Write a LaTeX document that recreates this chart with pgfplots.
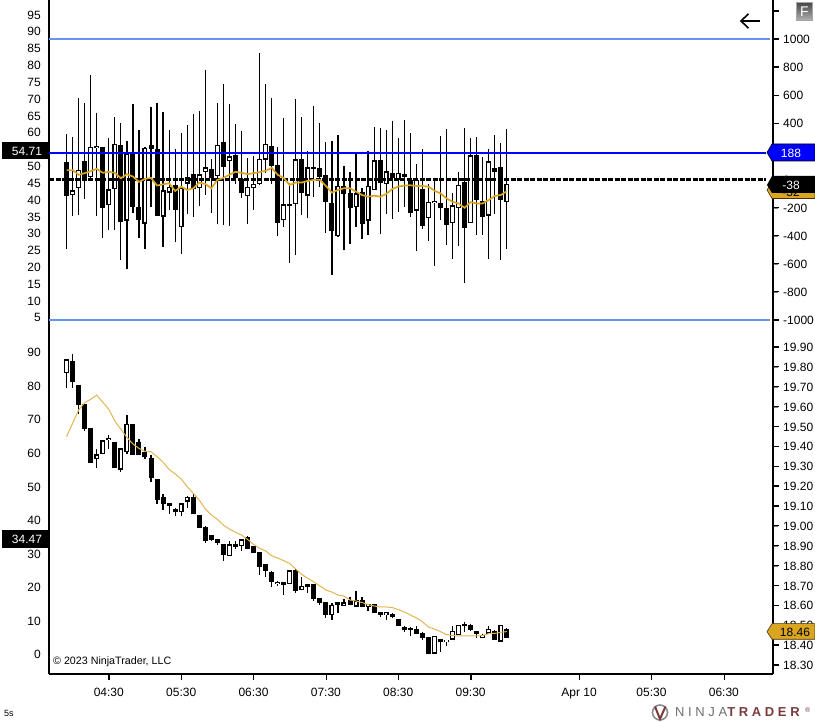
\documentclass[border=0pt]{standalone}
\usepackage{pgfplots}
\usepackage{pgfplotstable}
\usepackage{fontspec}
\setmainfont{Liberation Sans}
\newfontfamily\logofont[LetterSpace=28]{Liberation Sans}
\pgfplotsset{compat=1.18}
\definecolor{gold}{HTML}{DAA520}
\definecolor{softgold}{HTML}{E3B552}
\definecolor{cornf}{HTML}{6495ED}
\definecolor{pureblue}{HTML}{0000FF}
\definecolor{logored}{HTML}{7A3B3B}
\definecolor{loggray}{HTML}{6E6E6E}

\pgfplotstableread{
i t b h l w g
0 51.0 41.1 59.3 25.3 0 48.7
1 42.7 41.4 58.4 35.0 1 48.7
2 48.8 43.4 70.0 35.4 1 47.3
3 51.3 46.0 68.6 40.2 0 47.8
4 55.5 46.6 77.0 46.0 1 48.4
5 55.8 55.2 65.7 35.0 1 49.1
6 55.5 37.3 55.5 28.5 0 47.9
7 43.0 38.4 58.2 31.0 1 48.2
8 56.6 43.0 64.4 31.0 1 47.9
9 56.3 33.4 62.6 22.0 0 46.3
10 53.7 33.7 57.4 19.3 1 47.5
11 53.9 37.8 68.3 36.0 0 46.8
12 37.6 33.9 60.6 28.5 0 45.2
13 55.2 32.8 55.5 25.3 1 46.1
14 56.2 55.0 67.4 37.8 0 46.4
15 55.0 35.1 68.6 35.0 0 44.1
16 42.7 34.9 66.0 26.0 1 44.5
17 43.6 42.0 60.6 36.8 1 44.8
18 44.2 36.8 55.0 27.4 0 42.5
19 43.4 31.7 59.8 23.7 1 43.8
20 46.8 44.7 62.0 35.7 1 42.8
21 47.4 43.0 65.4 34.9 0 43.3
22 47.4 43.4 66.3 38.0 1 45.0
23 49.5 48.0 78.6 41.4 1 44.6
24 49.0 46.4 52.0 36.0 0 43.3
25 56.3 47.0 68.5 32.6 1 45.8
26 57.0 49.6 74.2 32.4 0 46.4
27 52.8 51.5 68.3 32.0 1 47.3
28 53.2 46.4 62.3 44.7 0 48.2
29 46.2 42.0 60.4 40.5 0 47.9
30 43.7 41.0 52.2 32.7 1 47.5
31 44.7 43.5 53.0 36.8 1 47.8
32 52.0 44.5 83.4 44.4 1 48.1
33 56.5 51.8 74.2 47.8 1 48.5
34 55.8 50.0 70.0 44.6 0 49.4
35 50.2 33.0 55.5 29.2 0 47.3
36 38.5 33.8 64.1 31.9 1 46.4
37 38.6 38.1 44.8 21.2 0 44.3
38 51.9 38.5 69.8 23.5 1 45.0
39 52.0 41.9 64.4 35.5 0 45.0
40 49.5 41.1 54.3 34.6 1 45.5
41 49.3 49.1 67.8 40.8 0 45.8
42 49.3 46.8 62.6 43.8 0 45.8
43 47.3 39.2 57.0 30.1 0 44.0
44 38.9 30.7 57.4 17.5 0 42.0
45 43.9 29.2 59.1 28.9 1 42.8
46 44.0 41.7 49.9 25.0 0 43.3
47 41.9 37.5 48.0 26.7 0 43.3
48 41.8 37.8 53.5 31.9 1 42.3
49 42.1 32.8 43.3 28.2 0 41.3
50 43.9 33.7 54.4 29.4 1 40.8
51 51.6 42.7 61.5 42.7 1 41.1
52 51.6 45.0 61.2 29.7 0 40.8
53 48.3 44.5 60.6 35.7 1 41.6
54 47.8 46.4 63.3 34.2 0 43.1
55 47.8 45.8 58.3 36.3 1 43.8
56 47.5 46.8 63.6 37.6 0 44.1
57 45.9 36.0 59.7 34.9 0 44.2
58 45.8 36.7 50.5 24.8 1 44.0
59 43.0 32.2 55.0 31.3 0 44.0
60 39.3 34.4 44.5 27.7 1 43.8
61 39.6 38.8 45.8 20.3 1 42.6
62 39.0 37.3 58.9 33.9 0 41.8
63 37.3 32.5 60.9 26.5 0 40.3
64 38.2 32.9 41.8 22.4 1 39.3
65 44.2 37.3 48.1 26.2 1 38.8
66 45.1 31.6 61.1 15.2 0 37.5
67 53.1 32.9 58.3 32.9 1 39.2
68 53.1 39.9 58.5 29.5 0 38.8
69 39.4 34.9 52.6 29.5 0 38.8
70 51.3 35.2 55.0 22.3 1 39.8
71 49.2 48.2 59.1 35.7 0 41.0
72 49.5 39.9 56.8 22.0 0 41.3
73 44.5 39.1 60.9 25.3 1 42.4
}\toptable

\pgfplotstableread{
i t b h l w g
0 19.838 19.767 19.838 19.695 1 19.449
1 19.829 19.726 19.865 19.695 0 19.516
2 19.707 19.610 19.707 19.563 0 19.583
3 19.611 19.489 19.611 19.479 0 19.620
4 19.491 19.318 19.491 19.318 0 19.637
5 19.360 19.338 19.387 19.293 1 19.658
6 19.430 19.360 19.430 19.360 1 19.622
7 19.440 19.430 19.457 19.387 1 19.586
8 19.420 19.293 19.420 19.293 0 19.528
9 19.390 19.283 19.390 19.273 1 19.486
10 19.511 19.370 19.558 19.360 1 19.445
11 19.511 19.358 19.511 19.358 0 19.412
12 19.420 19.358 19.437 19.358 0 19.390
13 19.372 19.348 19.395 19.338 0 19.375
14 19.340 19.243 19.357 19.222 0 19.373
15 19.234 19.132 19.234 19.112 0 19.348
16 19.145 19.112 19.160 19.082 0 19.320
17 19.113 19.100 19.113 19.060 0 19.284
18 19.085 19.071 19.092 19.051 0 19.261
19 19.113 19.071 19.113 19.051 1 19.236
20 19.144 19.122 19.152 19.092 1 19.197
21 19.145 19.061 19.160 19.061 0 19.164
22 19.053 18.991 19.053 18.991 0 19.130
23 18.994 18.926 18.998 18.916 0 19.085
24 18.954 18.931 18.954 18.926 0 19.055
25 18.934 18.914 18.934 18.905 0 19.033
26 18.907 18.855 18.907 18.825 0 19.004
27 18.907 18.847 18.922 18.847 1 18.984
28 18.907 18.894 18.922 18.885 0 18.968
29 18.932 18.897 18.932 18.875 1 18.954
30 18.942 18.885 18.947 18.885 0 18.932
31 18.897 18.865 18.897 18.865 0 18.907
32 18.867 18.795 18.867 18.755 0 18.887
33 18.808 18.775 18.808 18.744 0 18.874
34 18.768 18.716 18.773 18.694 0 18.850
35 18.716 18.706 18.723 18.696 1 18.838
36 18.718 18.704 18.718 18.654 0 18.825
37 18.776 18.706 18.776 18.706 1 18.810
38 18.778 18.674 18.783 18.664 0 18.783
39 18.696 18.676 18.743 18.676 1 18.756
40 18.706 18.694 18.706 18.664 0 18.736
41 18.706 18.634 18.706 18.624 0 18.718
42 18.635 18.614 18.635 18.604 0 18.698
43 18.615 18.553 18.615 18.538 0 18.677
44 18.604 18.553 18.610 18.528 1 18.667
45 18.615 18.604 18.615 18.563 0 18.652
46 18.615 18.595 18.630 18.595 1 18.647
47 18.625 18.604 18.640 18.604 0 18.627
48 18.625 18.594 18.672 18.594 1 18.622
49 18.625 18.594 18.640 18.594 0 18.614
50 18.605 18.594 18.605 18.573 1 18.604
51 18.605 18.563 18.605 18.563 0 18.597
52 18.565 18.552 18.565 18.542 0 18.592
53 18.565 18.552 18.565 18.527 1 18.592
54 18.555 18.543 18.562 18.537 0 18.589
55 18.530 18.498 18.530 18.498 0 18.579
56 18.491 18.478 18.498 18.468 0 18.567
57 18.483 18.480 18.490 18.448 0 18.552
58 18.480 18.458 18.496 18.458 0 18.537
59 18.459 18.438 18.466 18.428 0 18.518
60 18.439 18.357 18.439 18.357 0 18.491
61 18.448 18.357 18.448 18.357 1 18.481
62 18.429 18.418 18.429 18.367 0 18.468
63 18.428 18.418 18.428 18.397 1 18.453
64 18.470 18.428 18.495 18.428 1 18.448
65 18.500 18.449 18.500 18.449 1 18.446
66 18.500 18.498 18.515 18.468 0 18.446
67 18.500 18.478 18.506 18.470 0 18.446
68 18.470 18.458 18.470 18.438 0 18.446
69 18.449 18.438 18.458 18.438 1 18.448
70 18.480 18.458 18.495 18.458 1 18.458
71 18.470 18.428 18.476 18.428 0 18.459
72 18.500 18.418 18.500 18.418 1 18.464
73 18.480 18.438 18.486 18.438 0 18.468
}\bottable

\newcommand{\candles}[4]{% table, min half body, inset, min inner
  \addplot[draw=none,mark=none,forget plot,error bars/.cd,y dir=both,y explicit,error mark=none,
    error bar style={draw=black,line width=1.2pt}]
    table[x=i,y=h,y error plus expr=0,y error minus expr=\thisrow{h}-\thisrow{l}] {#1};
  \addplot[draw=none,mark=none,forget plot,error bars/.cd,y dir=both,y explicit,error mark=none,
    error bar style={draw=black,line width=5pt}]
    table[x=i,y expr=(\thisrow{t}+\thisrow{b})/2,
      y error plus expr={max((\thisrow{t}-\thisrow{b})/2,#2)},
      y error minus expr={max((\thisrow{t}-\thisrow{b})/2,#2)}] {#1};
  \addplot[draw=none,mark=none,forget plot,error bars/.cd,y dir=both,y explicit,error mark=none,
    error bar style={draw=white,line width=2.5pt}]
    table[x=i,y expr={\thisrow{w}>0.5 ? (\thisrow{t}+\thisrow{b})/2 : nan},
      y error plus expr={max((\thisrow{t}-\thisrow{b})/2-#3,#4)},
      y error minus expr={max((\thisrow{t}-\thisrow{b})/2-#3,#4)}] {#1};
}

\pgfplotsset{
  base/.style={
    scale only axis, width=724pt, xmin=-2.92, xmax=117.15,
    /pgf/number format/assume math mode=true,
    /pgf/number format/1000 sep={},
    tick label style={font=\fontsize{12}{14}\selectfont,inner sep=0pt,black},
    axis line style={-,line width=1.2pt,black},
    major tick length=5pt, tick align=outside,
    clip=false,
  },
  topy/.style={at={(49pt,392pt)},height=330pt,axis x line=none},
  boty/.style={at={(49pt,48pt)},height=344pt},
  leftlab/.style={axis y line*=left,y tick style={draw=none},yticklabel shift=3pt,yticklabel style={yshift=-0.7pt}},
  rightlab/.style={axis y line*=right,yticklabel style={anchor=west,yshift=-0.5pt},yticklabel shift=5pt},
}

\begin{document}
\begin{tikzpicture}
\useasboundingbox (0,0) rectangle (815pt,722pt);

% top panel, oscillator scale at the right
\begin{axis}[base,topy,rightlab,anchor=south west,
  ymin=-1071,ymax=1277.6,
  ytick={-1000,-800,...,1200},
  yticklabels={-1000,-800,-600,-400,-200,0,200,400,600,800,1000,{}}]
\end{axis}

% top panel, left scale with candles
\begin{axis}[base,topy,leftlab,anchor=south west,
  ymin=1.19,ymax=99.26,
  ytick={5,10,...,95}]
\candles{\toptable}{0.3}{0.36}{0.02}
\end{axis}

% levels on the right scale
\begin{axis}[base,topy,anchor=south west,hide axis,ymin=-1071,ymax=1277.6]
\addplot[cornf,line width=2pt] coordinates {(-2.92,1000)(116.65,1000)};
\addplot[cornf,line width=2pt] coordinates {(-2.92,-1000)(116.65,-1000)};
\addplot[pureblue,line width=1.3pt] coordinates {(-2.92,188)(116,188)};
\addplot[black,line width=2.3pt,dash pattern=on 5pt off 1.5pt] coordinates {(-2.92,0)(116,0)};
\end{axis}

% gold line above the levels
\begin{axis}[base,topy,anchor=south west,hide axis,ymin=1.19,ymax=99.26]
\addplot[gold,line width=1.7pt] table[x=i,y=g] {\toptable};
\end{axis}

% bottom panel, left scale and time axis
\begin{axis}[base,boty,leftlab,axis x line*=bottom,anchor=south west,
  ymin=-5.96,ymax=96.54,
  ytick={0,10,...,90},
  xtick={7,19,31,43,55,67,85,97,109},
  xticklabels={04:30,05:30,06:30,07:30,08:30,09:30,Apr 10,05:30,06:30},
  xticklabel shift=9pt]
\end{axis}

% bottom panel, price scale
\begin{axis}[base,boty,rightlab,axis x line=none,anchor=south west,
  ymin=18.2547,ymax=19.9855,
  ytick={18.3,18.4,...,19.95},
  yticklabel style={/pgf/number format/fixed,/pgf/number format/fixed zerofill,/pgf/number format/precision=2}]
\candles{\bottable}{0.005}{0.006}{0.001}
\addplot[softgold,line width=1pt] table[x=i,y=g] {\bottable};
\end{axis}

% tags and furniture (pixel coordinates, y down)
\begin{scope}[x=1pt,y=-1pt,shift={(0,722pt)},font=\fontsize{12}{14}\selectfont]
  % tick marks
  \foreach \py in {11.1,39,67.1,95.2,123.3,151.4,179.5,207.6,235.7,263.8,291.9,320}
    {\fill[black] (773,\py-0.6) rectangle (779,\py+0.6);}
  \foreach \py in {347,366.9,386.8,406.6,426.5,446.4,466.3,486.1,506,525.9,545.8,565.6,585.5,605.4,625.3,645.1,665}
    {\fill[black] (773,\py-0.6) rectangle (779,\py+0.6);}
  \foreach \px in {109,181.4,253.7,326.1,398.5,470.9,579.4,651.8,724.2}
    {\fill[black] (\px-0.6,674) rectangle (\px+0.6,680);}
  \fill[black] (2,142) rectangle (49,159.5);
  \node[white,anchor=center,inner sep=0pt] at (27,151) {54.71};
  \fill[black] (2,530) rectangle (49,548);
  \node[white,anchor=center,inner sep=0pt] at (27,539) {34.47};
  % blue tag
  \fill[pureblue,draw=black,line width=0.6pt] (767,152.5) -- (772,144) -- (815,144) -- (815,161) -- (772,161) -- cycle;
  \node[white,inner sep=0pt] at (791,153) {188};
  % gold and black tags
  \fill[gold,draw=black!70!gold,line width=0.6pt] (767,190) -- (772,182) -- (815,182) -- (815,198.5) -- (772,198.5) -- cycle;
  \node[black,inner sep=0pt] at (791,192) {-32};
  \fill[black] (767,185) -- (772,176) -- (815,176) -- (815,193) -- (772,193) -- cycle;
  \node[white,inner sep=0pt] at (791,185) {-38};
  % bottom gold tag
  \fill[gold,draw=black!70!gold,line width=0.6pt] (767,631.7) -- (772,623.7) -- (815,623.7) -- (815,639.3) -- (772,639.3) -- cycle;
  \node[black,inner sep=0pt] at (795,632) {18.46};
  % arrow
  \draw[black,line width=1.6pt] (741,21) -- (759.5,21);
  \draw[black,line width=1.6pt] (748.5,13.8) -- (741,21) -- (748.5,28.2);
  % F button
  \shade[top color=black!72,bottom color=black!30,draw=black!35,line width=0.6pt] (796.5,2.5) rectangle (812.5,20.5);
  \node[white,inner sep=0pt,font=\fontsize{14}{16}\selectfont] at (804.5,11.5) {F};
  % copyright
  \node[anchor=west,inner sep=0pt,font=\fontsize{10.7}{13}\selectfont] at (53,661.5) {© 2023 NinjaTrader, LLC};
  \node[anchor=west,inner sep=0pt,font=\fontsize{9}{11}\selectfont] at (4,713) {5s};
  % logo
  \draw[black!45,line width=1.6pt] (660,712.5) circle (7.5);
  \draw[logored,line width=2pt] (655,706.5) -- (660,719) -- (665.5,706.5);
  \node[anchor=west,inner sep=0pt,font=\logofont\fontsize{13}{15}\selectfont] at (675,712.5)
    {\textcolor{loggray}{NINJA}\textcolor{logored}{\bfseries TRADER}};
  \node[anchor=west,inner sep=0pt,font=\fontsize{7}{8}\selectfont,text=logored] at (805,710) {®};
\end{scope}
\end{tikzpicture}
\end{document}
